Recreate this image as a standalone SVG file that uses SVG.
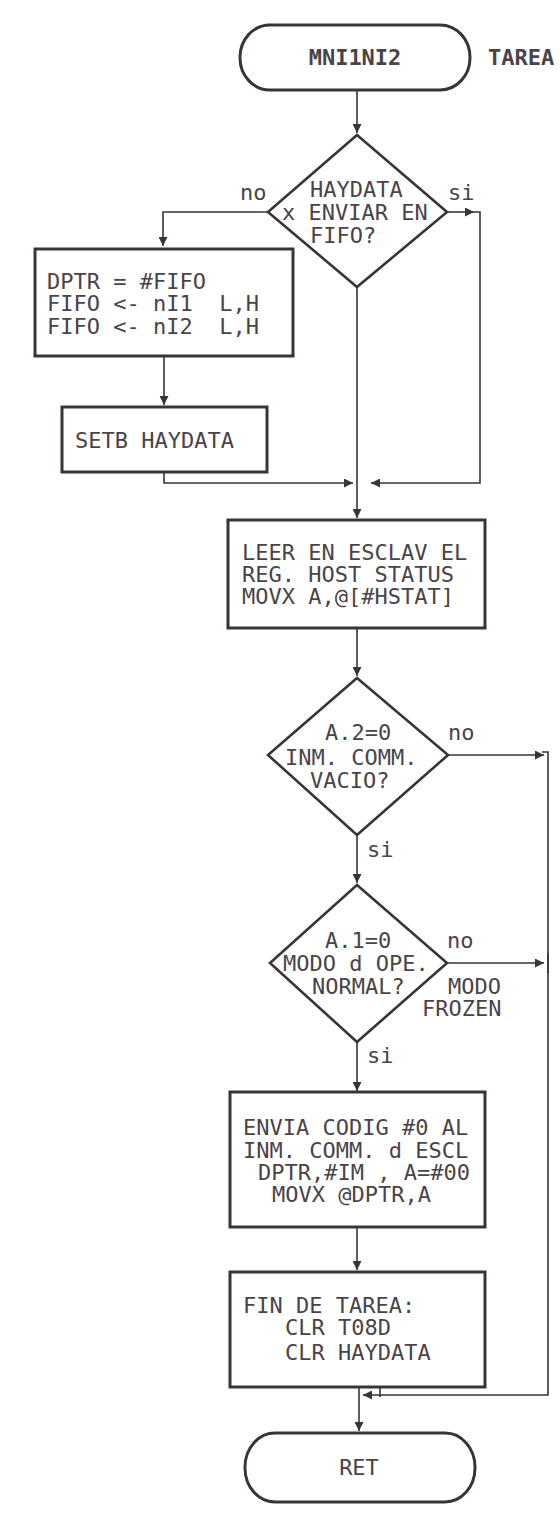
<svg xmlns="http://www.w3.org/2000/svg" width="560" height="1523" viewBox="0 0 560 1523">
<style>
.shape{fill:#fff;stroke:#3a3437;stroke-width:3}
.dia{fill:#fff;stroke:#3a3437;stroke-width:2.6}
.conn{fill:none;stroke:#3a3437;stroke-width:1.6}
.t{font-family:"DejaVu Sans Mono","Liberation Mono",monospace;font-size:22px;fill:#4a4448;white-space:pre}
.m{text-anchor:middle}
</style>
<defs>
<marker id="arr" viewBox="0 0 10 10" refX="10" refY="5" markerWidth="11" markerHeight="9" markerUnits="userSpaceOnUse" orient="auto">
<path d="M0,0 L10,5 L0,10 z" fill="#3a3437"/>
</marker>
</defs>
<rect width="560" height="1523" fill="#fff"/>
<g id="connectors">
<path class="conn" d="M357,90 V133" marker-end="url(#arr)"/>
<path class="conn" d="M268,212 H163 V246" marker-end="url(#arr)"/>
<path class="conn" d="M447,212 H474" marker-end="url(#arr)"/>
<path class="conn" d="M474,212 H480 V483 H371" marker-end="url(#arr)"/>
<path class="conn" d="M164,356 V405" marker-end="url(#arr)"/>
<path class="conn" d="M164,472 V483 H353" marker-end="url(#arr)"/>
<path class="conn" d="M357,287 V518" marker-end="url(#arr)"/>
<path class="conn" d="M357,628 V676" marker-end="url(#arr)"/>
<path class="conn" d="M357,835 V883" marker-end="url(#arr)"/>
<path class="conn" d="M357,1042 V1091" marker-end="url(#arr)"/>
<path class="conn" d="M357,1227 V1270" marker-end="url(#arr)"/>
<path class="conn" d="M448,755 H544" marker-end="url(#arr)"/>
<path class="conn" d="M447,963 H544" marker-end="url(#arr)"/>
<path class="conn" d="M542,752 H548 V1395 H363" marker-end="url(#arr)"/>
<path class="conn" d="M548,953 V973" stroke-width="2.5"/>
<path class="conn" d="M380,1387 V1397"/>
<path class="conn" d="M359,1387 V1431" marker-end="url(#arr)"/>
</g>
<g id="start">
<rect class="shape" x="240" y="25" width="230" height="65" rx="30" ry="32"/>
<text class="t m" x="355" y="65" font-weight="bold">MNI1NI2</text>
<text class="t" x="488" y="65" font-weight="bold">TAREA</text>
</g>
<g id="dec1">
<polygon class="dia" points="357,135 447,212 357,287 268,212"/>
<text class="t" x="310" y="197">HAYDATA</text>
<text class="t" x="282" y="220">x ENVIAR EN</text>
<text class="t" x="310" y="243">FIFO?</text>
<text class="t" x="240" y="200">no</text>
<text class="t" x="448" y="200">si</text>
</g>
<g id="box1">
<rect class="shape" x="35" y="249" width="258" height="107"/>
<text class="t" x="47" y="289">DPTR = #FIFO</text>
<text class="t" x="47" y="311">FIFO &lt;- nI1  L,H</text>
<text class="t" x="47" y="334">FIFO &lt;- nI2  L,H</text>
</g>
<g id="box2">
<rect class="shape" x="62" y="407" width="205" height="65"/>
<text class="t" x="75" y="448">SETB HAYDATA</text>
</g>
<g id="box3">
<rect class="shape" x="228" y="520" width="257" height="108"/>
<text class="t" x="242" y="560">LEER EN ESCLAV EL</text>
<text class="t" x="242" y="582">REG. HOST STATUS</text>
<text class="t" x="242" y="604">MOVX A,@[#HSTAT]</text>
</g>
<g id="dec2">
<polygon class="dia" points="357,678 448,755 357,835 268,755"/>
<text class="t" x="325" y="740">A.2=0</text>
<text class="t" x="285" y="765">INM. COMM.</text>
<text class="t" x="310" y="788">VACIO?</text>
<text class="t" x="448" y="740">no</text>
<text class="t" x="367" y="857">si</text>
</g>
<g id="dec3">
<polygon class="dia" points="357,885 447,963 357,1042 270,963"/>
<text class="t" x="325" y="948">A.1=0</text>
<text class="t" x="283" y="971">MODO d OPE.</text>
<text class="t" x="312" y="994">NORMAL?</text>
<text class="t" x="447" y="948">no</text>
<text class="t" x="448" y="994">MODO</text>
<text class="t" x="422" y="1016">FROZEN</text>
<text class="t" x="367" y="1063">si</text>
</g>
<g id="box4">
<rect class="shape" x="230" y="1092" width="255" height="135"/>
<text class="t" x="243" y="1135">ENVIA CODIG #0 AL</text>
<text class="t" x="243" y="1158">INM. COMM. d ESCL</text>
<text class="t" x="258" y="1180">DPTR,#IM , A=#00</text>
<text class="t" x="272" y="1202">MOVX @DPTR,A</text>
</g>
<g id="box5">
<rect class="shape" x="230" y="1272" width="255" height="115"/>
<text class="t" x="243" y="1313">FIN DE TAREA:</text>
<text class="t" x="285" y="1335">CLR T08D</text>
<text class="t" x="285" y="1360">CLR HAYDATA</text>
</g>
<g id="end">
<rect class="shape" x="245" y="1433" width="230" height="69" rx="30" ry="34"/>
<text class="t m" x="359" y="1475">RET</text>
</g>
</svg>
